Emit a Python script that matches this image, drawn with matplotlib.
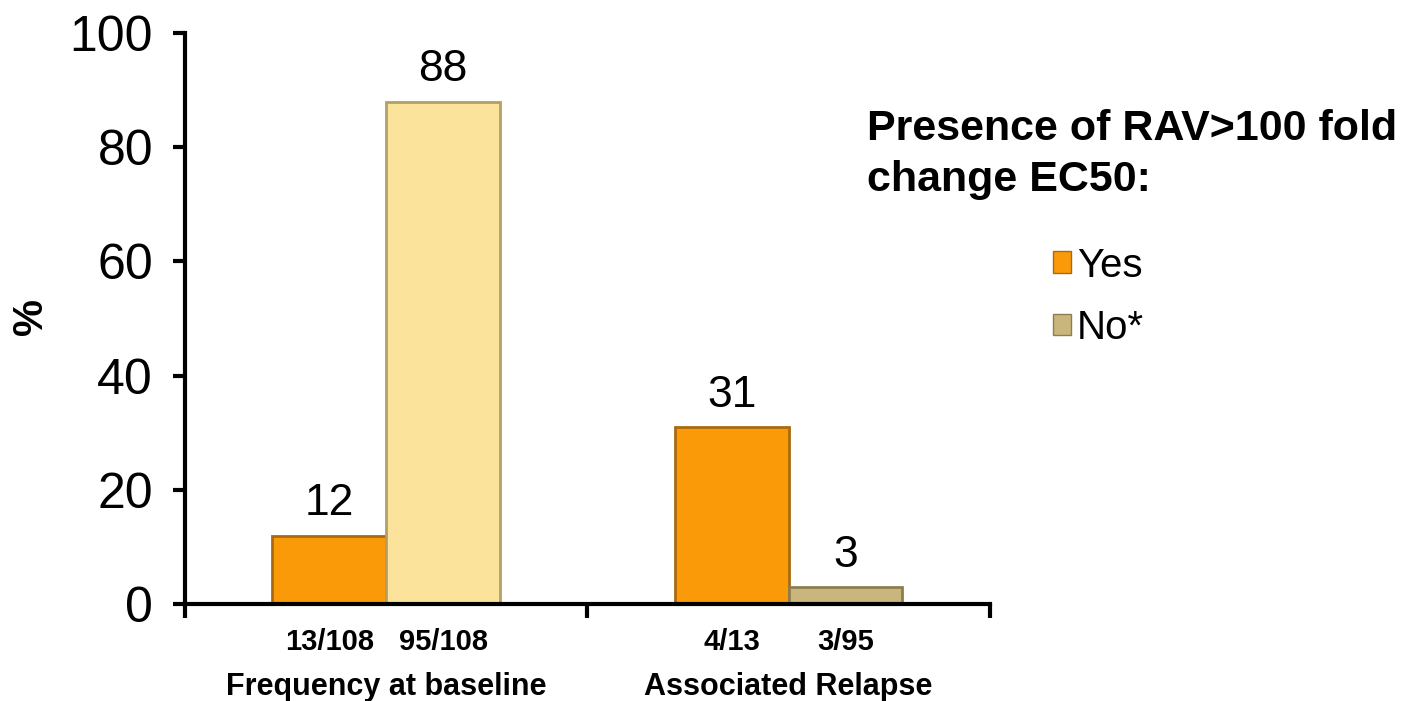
import matplotlib.pyplot as plt
import numpy as np
from matplotlib.patches import Patch

plt.rcParams['font.family'] = ['Liberation Sans', 'DejaVu Sans']

groups = ["Frequency at baseline", "Associated Relapse"]
yes_vals = [12, 31]
no_vals = [88, 3]
yes_counts = ["13/108", "4/13"]
no_counts = ["95/108", "3/95"]
legend_labels = ["Yes", "No*"]

yes_color = "#FB9A08"
yes_edge = "#A86A10"
no_colors = ["#FBE39B", "#C9B67C"]
no_edges = ["#B3A064", "#8E7E4E"]

fig = plt.figure(figsize=(14.12, 7.01), dpi=100)
ax = fig.add_axes([0.131, 0.138, 0.570, 0.815])

centers = np.arange(len(groups)) + 0.5
w = 0.283
ax.bar(centers - w / 2, yes_vals, w, color=yes_color, edgecolor=yes_edge, linewidth=2)
ax.bar(centers + w / 2, no_vals, w, color=no_colors, edgecolor=no_edges, linewidth=2)

for x, v in zip(centers - w / 2, yes_vals):
    ax.text(x, v + 2.0, str(v), ha="center", va="bottom", fontsize=32)
for x, v in zip(centers + w / 2, no_vals):
    ax.text(x, v + 2.0, str(v), ha="center", va="bottom", fontsize=32)

ax.set_xlim(0, 2)
ax.set_ylim(0, 100)
ax.set_yticks([0, 20, 40, 60, 80, 100])
ax.tick_params(axis="y", labelsize=36, length=9, width=3, pad=14)
ax.set_xticks([0, 1, 2])
ax.set_xticklabels([])
ax.tick_params(axis="x", length=10, width=3, direction="out")

ax.set_xticks(list(centers - w / 2) + list(centers + w / 2), minor=True)
ax.set_xticklabels(yes_counts + no_counts, minor=True, fontsize=21, fontweight="bold")
ax.tick_params(axis="x", which="minor", length=0, pad=17)

for x, g in zip(centers, groups):
    ax.text(x, -0.118, g, transform=ax.get_xaxis_transform(), ha="center", va="top",
            fontsize=22, fontweight="bold")

fig.text(0.022, 0.548, "%", fontsize=30, fontweight="bold", rotation=90,
         ha="center", va="center")

for s in ["top", "right"]:
    ax.spines[s].set_visible(False)
ax.spines["left"].set_linewidth(3)
ax.spines["bottom"].set_linewidth(3)

fig.text(0.614, 0.845, "Presence of RAV>100 fold\nchange EC50:", fontsize=31,
         fontweight="bold", ha="left", va="top", linespacing=1.35)

handles = [Patch(facecolor=yes_color, edgecolor=yes_edge),
           Patch(facecolor=no_colors[1], edgecolor=no_edges[1])]
fig.legend(handles, legend_labels, loc="upper left", bbox_to_anchor=(0.72, 0.70),
           frameon=False, fontsize=29, handlelength=0.45, handleheight=0.45,
           handletextpad=0.15, labelspacing=0.6)

fig.savefig("out.png", dpi=100)
